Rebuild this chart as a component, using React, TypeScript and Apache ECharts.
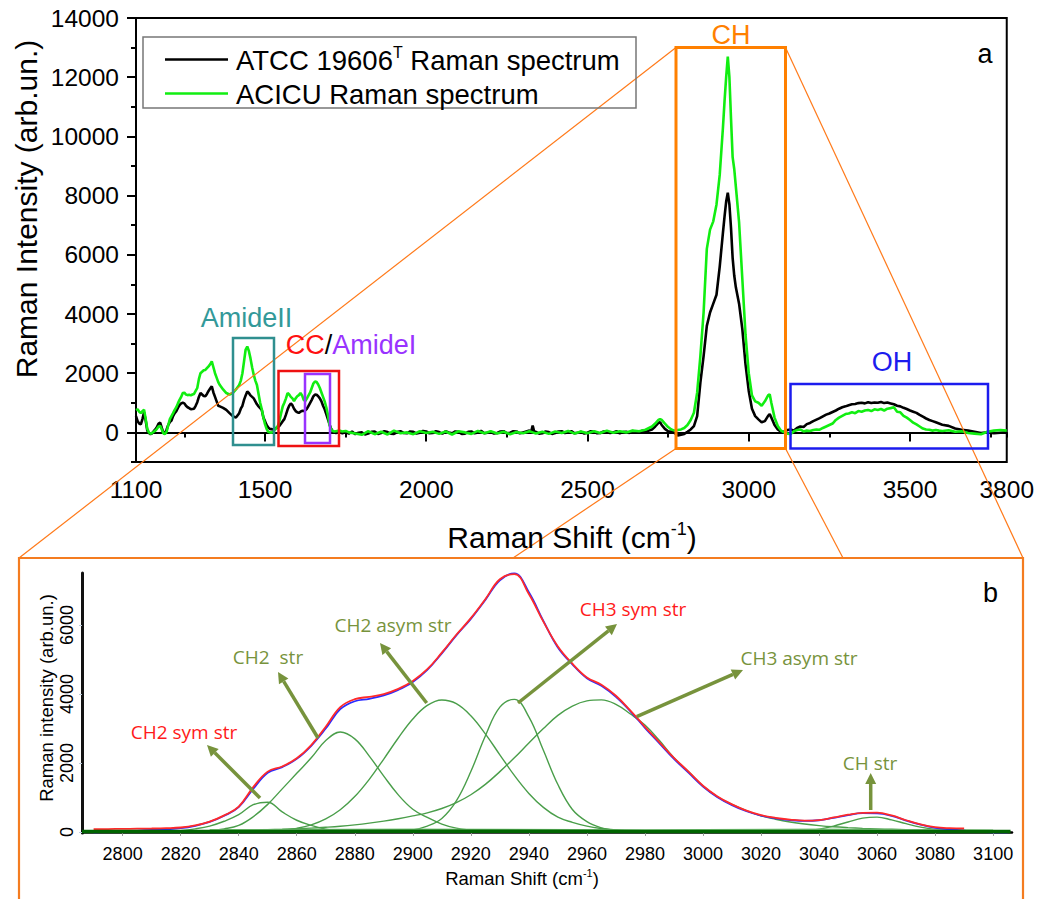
import React, { useEffect, useRef } from "react";
import * as echarts from "echarts";

// ---------- Panel a: full Raman spectra (shift cm-1, intensity arb.un.) ----------
const atcc: [number, number][] = [
  [1100,550],[1105,380],[1110,300],[1115,270],[1120,450],[1125,680],[1130,400],[1135,60],[1140,-20],[1145,-60],
  [1150,-30],[1155,40],[1160,100],[1165,180],[1170,300],[1175,330],[1180,150],[1185,-20],[1190,-30],[1195,100],
  [1200,250],[1205,350],[1210,400],[1215,550],[1220,650],[1225,720],[1230,830],[1235,920],[1240,980],[1245,1000],
  [1250,980],[1255,900],[1260,850],[1265,820],[1270,780],[1275,790],[1280,800],[1285,900],[1290,1020],[1295,1200],
  [1300,1330],[1305,1280],[1310,1230],[1315,1220],[1320,1300],[1325,1400],[1330,1480],[1335,1560],[1340,1350],[1345,1200],
  [1350,1050],[1355,900],[1360,880],[1370,830],[1380,760],[1390,650],[1400,550],[1410,500],[1420,650],[1425,800],
  [1430,900],[1435,1100],[1440,1250],[1445,1380],[1450,1330],[1455,1250],[1460,1200],[1465,1150],[1470,1050],[1475,950],
  [1480,880],[1485,820],[1490,760],[1495,500],[1500,380],[1505,250],[1510,170],[1515,120],[1520,110],[1525,100],
  [1530,130],[1535,150],[1540,170],[1545,220],[1550,300],[1555,380],[1560,450],[1565,600],[1570,770],[1575,900],
  [1580,980],[1585,920],[1590,800],[1595,720],[1600,680],[1605,660],[1610,700],[1615,730],[1620,720],[1625,750],
  [1630,800],[1635,900],[1640,1000],[1645,1100],[1650,1220],[1655,1280],[1660,1270],[1665,1220],[1670,1150],[1675,1050],
  [1680,900],[1685,780],[1690,620],[1695,450],[1700,280],[1705,120],[1710,40],[1715,0],[1720,-20],[1730,20],
  [1740,-30],[1750,10],[1760,-40],[1770,30],[1780,-60],[1790,-10],[1800,0],[1810,-70],[1820,-40],[1830,20],
  [1840,30],[1850,-50],[1860,-20],[1870,40],[1880,10],[1890,-40],[1900,-50],[1910,10],[1920,40],[1930,-20],
  [1940,-30],[1950,30],[1960,20],[1970,-40],[1980,-10],[1990,50],[2000,30],[2010,-30],[2020,-20],[2030,40],
  [2040,10],[2050,-40],[2060,40],[2070,0],[2080,-30],[2090,30],[2100,20],[2110,-50],[2120,-40],[2130,20],
  [2140,30],[2150,-30],[2160,0],[2170,50],[2180,-30],[2190,-10],[2200,20],[2210,-40],[2220,-20],[2230,30],
  [2240,40],[2250,-30],[2260,-10],[2270,40],[2280,30],[2290,-30],[2300,0],[2310,30],[2320,60],[2325,0],
  [2330,230],[2335,10],[2340,20],[2350,-40],[2360,-30],[2370,30],[2380,10],[2390,-50],[2400,-20],[2410,30],
  [2420,40],[2430,-20],[2440,0],[2450,40],[2460,-30],[2470,-10],[2480,20],[2490,-40],[2500,-10],[2510,40],
  [2520,30],[2530,-30],[2540,-20],[2550,30],[2560,40],[2570,-20],[2580,0],[2590,40],[2600,-30],[2610,10],
  [2620,20],[2630,-20],[2640,50],[2650,10],[2660,0],[2670,60],[2680,30],[2690,60],
  [2700,100],[2710,200],[2720,320],[2725,350],[2730,250],[2740,120],[2750,40],[2760,30],[2770,-20],[2780,-100],
  [2790,-80],[2800,-50],[2810,20],[2820,100],[2830,215],[2840,550],[2850,1680],[2860,2580],[2870,3600],[2880,4050],
  [2890,4350],[2900,4650],[2910,5600],[2920,6750],[2925,7300],[2930,7800],[2935,8100],[2940,7700],[2945,6900],[2950,5900],
  [2955,5300],[2960,4900],[2970,4350],[2980,3500],[2990,2300],[3000,1400],[3010,800],[3020,550],[3030,440],[3040,340],
  [3050,380],[3060,560],[3065,620],[3070,500],[3080,250],[3090,100],[3100,20],[3110,30],[3120,80],[3130,100],
  [3140,60],[3150,150],[3160,200],[3170,180],[3180,280],[3190,320],[3200,380],[3210,430],[3220,480],[3230,540],
  [3240,600],[3250,640],[3260,690],[3270,740],[3280,800],[3290,850],[3300,880],[3310,920],[3320,950],[3330,960],
  [3340,990],[3350,1000],[3360,980],[3370,1020],[3380,990],[3390,1010],[3400,1000],[3410,1030],[3420,990],[3430,1010],
  [3440,980],[3450,950],[3460,900],[3470,880],[3480,830],[3490,790],[3500,740],[3510,700],[3520,660],[3530,590],
  [3540,530],[3550,470],[3560,420],[3570,380],[3580,340],[3590,300],[3600,260],[3620,220],[3640,130],[3660,90],
  [3680,60],[3700,20],[3720,-20],[3740,0],[3760,-30],[3780,-10],[3800,0]
];

const acicu: [number, number][] = [
  [1100,750],[1105,780],[1110,700],[1115,650],[1120,720],[1125,770],[1130,450],[1135,120],[1140,0],[1145,-50],
  [1150,-20],[1155,20],[1160,60],[1165,120],[1170,200],[1175,220],[1180,100],[1185,-40],[1190,-50],[1195,20],
  [1200,250],[1205,450],[1210,550],[1215,650],[1220,760],[1225,850],[1230,980],[1235,1100],[1240,1200],[1245,1330],
  [1250,1340],[1255,1280],[1260,1260],[1265,1270],[1270,1250],[1275,1280],[1280,1300],[1285,1400],[1290,1500],[1295,1800],
  [1300,2000],[1305,2050],[1310,2100],[1315,2110],[1320,2170],[1325,2230],[1330,2300],[1335,2400],[1340,2200],[1345,2000],
  [1350,1850],[1355,1700],[1360,1600],[1370,1450],[1380,1330],[1390,1280],[1400,1330],[1410,1450],[1420,1600],[1425,1750],
  [1430,2000],[1435,2400],[1440,2800],[1445,2900],[1450,2750],[1455,2500],[1460,2200],[1465,1950],[1470,1750],[1475,1600],
  [1480,1300],[1485,1000],[1490,780],[1495,500],[1500,280],[1505,120],[1510,20],[1515,0],[1520,-10],[1525,20],
  [1530,80],[1535,150],[1540,220],[1545,400],[1550,650],[1555,880],[1560,1000],[1565,1150],[1570,1330],[1575,1280],
  [1580,1200],[1585,1150],[1590,1060],[1595,1150],[1600,1220],[1605,1260],[1610,1330],[1615,1250],[1620,1100],[1625,1060],
  [1630,1150],[1635,1250],[1640,1350],[1645,1500],[1650,1650],[1655,1720],[1660,1700],[1665,1620],[1670,1500],[1675,1350],
  [1680,1200],[1685,1050],[1690,850],[1695,600],[1700,250],[1705,100],[1710,50],[1715,30],[1720,40],[1730,60],
  [1740,30],[1750,50],[1760,0],[1780,-40],[1800,-80],[1820,40],[1840,-60],[1860,20],[1880,-70],[1900,60],
  [1920,-30],[1940,0],[1960,-60],[1980,40],[2000,-20],[2020,20],[2040,-50],[2060,30],[2080,-70],[2100,40],
  [2120,0],[2140,-50],[2160,50],[2180,-30],[2200,40],[2220,-40],[2240,20],[2260,-60],[2280,10],[2300,-30],
  [2320,40],[2330,0],[2340,-40],[2360,20],[2380,-50],[2400,30],[2420,-20],[2440,50],[2460,-40],[2480,30],
  [2500,-30],[2520,40],[2540,-20],[2560,60],[2580,-10],[2600,40],[2620,0],[2640,60],[2660,40],[2680,90],
  [2700,200],[2710,300],[2720,420],[2725,450],[2730,420],[2740,300],[2750,180],[2760,100],[2770,60],[2780,80],
  [2790,100],[2800,150],[2810,250],[2820,420],[2830,665],[2840,1340],[2850,2580],[2860,4050],[2870,6200],[2880,6850],
  [2890,7130],[2900,7700],[2910,8700],[2920,10300],[2925,11200],[2930,12000],[2935,12700],[2940,12000],[2945,10600],[2950,9300],
  [2955,8900],[2960,8300],[2970,7100],[2980,5200],[2990,3300],[3000,2000],[3010,1250],[3020,1050],[3030,1000],[3040,900],
  [3050,1050],[3060,1250],[3065,1290],[3070,1000],[3080,500],[3090,215],[3100,60],[3110,0],[3120,-40],[3130,-50],
  [3140,40],[3150,80],[3160,100],[3170,30],[3180,60],[3190,50],[3200,80],[3210,100],[3220,90],[3230,150],
  [3240,200],[3250,250],[3260,300],[3270,420],[3280,500],[3290,560],[3300,620],[3310,640],[3320,680],[3330,650],
  [3340,720],[3350,700],[3360,740],[3370,760],[3380,720],[3390,780],[3400,760],[3410,790],[3420,740],[3430,800],
  [3440,820],[3450,850],[3460,700],[3470,680],[3480,560],[3490,500],[3500,420],[3510,330],[3520,270],[3530,200],
  [3540,130],[3550,100],[3560,90],[3570,60],[3580,80],[3590,60],[3600,50],[3620,70],[3640,20],[3660,40],
  [3680,-20],[3700,-40],[3720,-60],[3740,20],[3760,60],[3780,80],[3800,60]
];

const xLabelsA = [1100, 1500, 2000, 2500, 3000, 3500, 3800];
const xMajorA = [1500, 2000, 2500, 3000, 3500];
const xMinorA = [1100, 1250, 1750, 2250, 2750, 3250, 3750, 3800];
const yLabelsA = [0, 2000, 4000, 6000, 8000, 10000, 12000, 14000];
const yMinorA = [-1000, 1000, 3000, 5000, 7000, 9000, 11000, 13000];

// ---------- Panel b: CH band fit ----------
const fitX = [
  2790,2795,2800,2805,2810,2815,2820,2825,
  2830,2835,2840,2845,2850,2855,2860,2865,
  2870,2875,2880,2885,2890,2895,2900,2905,
  2910,2915,2920,2925,2930,2935,2940,2945,
  2950,2955,2960,2965,2970,2975,2980,2985,
  2990,2995,3000,3005,3010,3015,3020,3025,
  3030,3035,3040,3045,3050,3055,3060,3065,
  3070,3075,3080,3085,3090,3095,3100,3105
];
const measured = [
  -10,0,20,40,60,80,110,180,
  290,470,720,1250,1720,1880,2120,2500,
  3000,3560,3790,3860,3960,4120,4350,4700,
  5180,5700,6180,6730,7300,7500,6950,6120,
  5350,4860,4460,4240,3920,3500,3020,2570,
  2120,1720,1320,1010,780,600,475,395,
  345,320,340,410,490,545,540,470,
  330,210,120,80,40,0,-10,-10
];
const fitSum = [
  80,85,90,95,100,110,130,190,
  300,480,735,1300,1750,1900,2135,2520,
  3050,3620,3850,3920,4000,4150,4380,4720,
  5200,5720,6200,6750,7330,7480,6900,6100,
  5380,4880,4480,4270,3950,3520,3050,2600,
  2150,1750,1340,1030,800,620,490,410,
  360,330,345,420,500,555,560,480,
  340,220,140,110,100,null,null,null
];
const ch2Sym = [
  0,0,0,0,5,15,40,90,
  170,310,500,790,860,580,340,190,
  80,25,8,0,0,0,0,0,
  0,0,0,0,0,0,0,0,
  0,0,0,0,0,0,0,0,
  0,0,0,0,0,0,0,0,
  0,0,0,0,0,0,0,0,
  0,0,0,0,0,0,0,0
];
const ch2Str = [
  0,0,0,0,0,2,6,15,
  40,90,190,440,800,1250,1700,2150,
  2650,2900,2700,2200,1620,1076,660,420,
  230,110,50,20,6,0,0,0,
  0,0,0,0,0,0,0,0,
  0,0,0,0,0,0,0,0,
  0,0,0,0,0,0,0,0,
  0,0,0,0,0,0,0,0
];
const ch2Asym = [
  0,0,0,0,0,0,0,0,
  0,0,3,9,22,49,104,204,
  377,644,1027,1527,2115,2726,3277,3670,
  3828,3722,3370,2845,2237,1639,1118,712,
  430,280,170,100,55,30,15,5,
  0,0,0,0,0,0,0,0,
  0,0,0,0,0,0,0,0,
  0,0,0,0,0,0,0,0
];
const ch3Sym = [
  0,0,0,0,0,0,0,0,
  0,0,0,0,0,0,0,0,
  0,0,0,0,8,20,60,170,
  390,900,1752,2784,3619,3845,3339,2370,
  1375,652,300,120,45,15,5,0,
  0,0,0,0,0,0,0,0,
  0,0,0,0,0,0,0,0,
  0,0,0,0,0,0,0,0
];
const ch3Asym = [
  12,14,16,18,20,23,26,30,
  35,40,47,55,65,77,92,110,
  135,165,205,255,315,385,465,555,
  680,850,1080,1380,1750,2150,2580,3000,
  3380,3650,3800,3830,3700,3420,3100,2650,
  2150,1750,1330,1020,800,620,470,370,
  290,230,185,150,125,105,90,78,
  68,60,52,46,40,35,31,28
];
const chStr = [
  0,0,0,0,0,0,0,0,
  0,0,0,0,0,0,0,0,
  0,0,0,0,0,0,0,0,
  0,0,0,0,0,0,0,0,
  0,0,0,0,0,0,0,0,
  0,0,0,0,0,0,0,0,
  10,30,80,170,290,400,430,350,
  240,140,70,30,10,3,0,0
];
const baselineX = [2786, 2830, 2900, 2980, 3040, 3100, 3106];
const baselineDark = [12, 14, 18, 16, 14, 12, 12];
const baselineLight = [null, 55, 70, 50, 75, 45, null];

const xTicksB = [2800,2820,2840,2860,2880,2900,2920,2940,2960,2980,3000,3020,3040,3060,3080,3100];
const yTicksB = [0, 2000, 4000, 6000];

const FONT = "'Liberation Sans', Arial, sans-serif";
const GOTHIC = "'Open Sans', 'DejaVu Sans', sans-serif";
const OLIVE = "#77933c";
const ORANGE = "#ff8000";
const GREEN = "#11ee11";
const COMP = "#4a9e4a";

const zip = (xs: number[], ys: (number | null)[]) => xs.map((x, i) => [x, ys[i]]);

function arrowEls(t: [number, number], h: [number, number]) {
  const dx = h[0] - t[0], dy = h[1] - t[1];
  const L = Math.hypot(dx, dy);
  const ux = dx / L, uy = dy / L, nx = -uy, ny = ux;
  const hl = 11, hw = 5.5;
  const bx = h[0] - ux * hl, by = h[1] - uy * hl;
  return [
    { type: "line", z: 20, shape: { x1: t[0], y1: t[1], x2: bx, y2: by }, style: { stroke: OLIVE, lineWidth: 3.5 } },
    { type: "polygon", z: 20, shape: { points: [[h[0], h[1]], [bx + nx * hw, by + ny * hw], [bx - nx * hw, by - ny * hw]] }, style: { fill: OLIVE } },
  ];
}

function txt(x: number, y: number, text: string, size: number, fill: string, family = FONT, extra: any = {}) {
  return { type: "text", z: 30, x, y, ...extra, style: { text, fontSize: size, fontFamily: family, fill, align: "center", verticalAlign: "middle" } };
}

function box(x1: number, y1: number, x2: number, y2: number, stroke: string, lw: number) {
  return { type: "rect", z: 15, shape: { x: x1, y: y1, width: x2 - x1, height: y2 - y1 }, style: { fill: "none", stroke, lineWidth: lw } };
}

function oline(x1: number, y1: number, x2: number, y2: number, lw = 1.2) {
  return { type: "line", z: 14, shape: { x1, y1, x2, y2 }, style: { stroke: "#ff7a1a", lineWidth: lw } };
}

export default function App() {
  const ref = useRef<HTMLDivElement>(null);
  useEffect(() => {
    const chart = echarts.init(ref.current!, null, { renderer: "svg" });
    const lbl = { color: "#000", fontFamily: FONT };
    const option: any = {
      animation: false,
      backgroundColor: "#fff",
      grid: [
        { left: 136, top: 18, width: 873, height: 444, show: true, borderColor: "#000", borderWidth: 2, backgroundColor: "transparent" },
        { left: 82, top: 573, width: 930, height: 260 },
      ],
      xAxis: [
        {
          type: "value", gridIndex: 0, min: 1100, max: 3800, position: "bottom",
          axisLine: { lineStyle: { color: "#000", width: 2 } },
          axisTick: { show: true, customValues: xMajorA, length: 9, lineStyle: { color: "#000", width: 2 } },
          axisLabel: { customValues: xLabelsA, fontSize: 24.5, margin: 15, formatter: (v: number) => String(v), ...lbl },
          splitLine: { show: false },
        },
        {
          type: "value", gridIndex: 0, min: 1100, max: 3800, position: "bottom",
          axisLine: { show: false },
          axisTick: { show: true, customValues: xMinorA, length: 5, lineStyle: { color: "#000", width: 2 } },
          axisLabel: { show: false },
          splitLine: { show: false },
        },
        {
          type: "value", gridIndex: 1, min: 2786, max: 3106.5, position: "bottom",
          axisLine: { lineStyle: { color: "#000", width: 2.5 } },
          axisTick: { show: true, customValues: xTicksB, length: 4, lineStyle: { color: "#999", width: 1 } },
          axisLabel: { customValues: xTicksB, fontSize: 18, margin: 12, formatter: (v: number) => String(v), ...lbl },
          splitLine: { show: false },
        },
      ],
      yAxis: [
        {
          type: "value", gridIndex: 0, min: -1000, max: 14000, position: "left",
          axisLine: { show: true, lineStyle: { color: "#000", width: 2 } },
          axisTick: { show: true, customValues: yLabelsA, length: 9, lineStyle: { color: "#000", width: 2 } },
          axisLabel: { customValues: yLabelsA, fontSize: 24.5, margin: 17, formatter: (v: number) => String(v), ...lbl },
          splitLine: { show: false },
        },
        {
          type: "value", gridIndex: 0, min: -1000, max: 14000, position: "left",
          axisLine: { show: false },
          axisTick: { show: true, customValues: yMinorA, length: 5, lineStyle: { color: "#000", width: 2 } },
          axisLabel: { show: false },
          splitLine: { show: false },
        },
        {
          type: "value", gridIndex: 1, min: -30, max: 7510, position: "left",
          axisLine: { show: true, lineStyle: { color: "#111", width: 3 } },
          axisTick: { show: true, customValues: yTicksB, length: 3, lineStyle: { color: "#bcd", width: 1 } },
          axisLabel: { customValues: yTicksB, fontSize: 18, rotate: 90, margin: 6, formatter: (v: number) => String(v), ...lbl },
          splitLine: { show: false },
        },
      ],
      series: [
        { name: "ATCC 19606T Raman spectrum", type: "line", xAxisIndex: 0, yAxisIndex: 0, data: atcc, symbol: "none", lineStyle: { color: "#000", width: 2.6 }, z: 3 },
        { name: "ACICU Raman spectrum", type: "line", xAxisIndex: 0, yAxisIndex: 0, data: acicu, symbol: "none", lineStyle: { color: GREEN, width: 2.6 }, z: 4 },
        { name: "CH2 sym str", type: "line", xAxisIndex: 2, yAxisIndex: 2, data: zip(fitX, ch2Sym), symbol: "none", smooth: 0.4, lineStyle: { color: COMP, width: 1.4 } },
        { name: "CH2 str", type: "line", xAxisIndex: 2, yAxisIndex: 2, data: zip(fitX, ch2Str), symbol: "none", smooth: 0.4, lineStyle: { color: COMP, width: 1.4 } },
        { name: "CH2 asym str", type: "line", xAxisIndex: 2, yAxisIndex: 2, data: zip(fitX, ch2Asym), symbol: "none", smooth: 0.4, lineStyle: { color: COMP, width: 1.4 } },
        { name: "CH3 sym str", type: "line", xAxisIndex: 2, yAxisIndex: 2, data: zip(fitX, ch3Sym), symbol: "none", smooth: 0.4, lineStyle: { color: COMP, width: 1.4 } },
        { name: "CH3 asym str", type: "line", xAxisIndex: 2, yAxisIndex: 2, data: zip(fitX, ch3Asym), symbol: "none", smooth: 0.4, lineStyle: { color: COMP, width: 1.4 } },
        { name: "CH str", type: "line", xAxisIndex: 2, yAxisIndex: 2, data: zip(fitX, chStr), symbol: "none", smooth: 0.4, lineStyle: { color: COMP, width: 1.4 } },
        { name: "baseline light", type: "line", xAxisIndex: 2, yAxisIndex: 2, data: zip(baselineX, baselineLight), symbol: "none", lineStyle: { color: "#7cc47c", width: 2 } },
        { name: "measured", type: "line", xAxisIndex: 2, yAxisIndex: 2, data: zip(fitX, measured), symbol: "none", smooth: 0.4, lineStyle: { color: "#2b2bff", width: 1.8 }, z: 5 },
        { name: "fit", type: "line", xAxisIndex: 2, yAxisIndex: 2, data: zip(fitX, fitSum), symbol: "none", smooth: 0.4, lineStyle: { color: "#ff2a2a", width: 1.8 }, z: 6 },
        { name: "baseline", type: "line", xAxisIndex: 2, yAxisIndex: 2, data: zip(baselineX, baselineDark), symbol: "none", lineStyle: { color: "#006400", width: 3.5 }, z: 7 },
      ],
      graphic: [
        // legend
        box(143, 37, 636, 108, "#777", 1.5),
        { type: "line", z: 16, shape: { x1: 165, y1: 59.5, x2: 228, y2: 59.5 }, style: { stroke: "#000", lineWidth: 2.5 } },
        { type: "line", z: 16, shape: { x1: 165, y1: 93.5, x2: 228, y2: 93.5 }, style: { stroke: GREEN, lineWidth: 2.5 } },
        {
          type: "text", z: 30, x: 236, y: 60,
          style: {
            text: "{a|ATCC 19606}{s|T}{a| Raman spectrum}", align: "left", verticalAlign: "middle",
            rich: { a: { fontSize: 27.5, fontFamily: FONT, fill: "#000", lineHeight: 31 }, s: { fontSize: 16, fontFamily: FONT, fill: "#000", lineHeight: 18, verticalAlign: "top" } },
          },
        },
        { type: "text", z: 30, x: 236, y: 94, style: { text: "ACICU Raman spectrum", fontSize: 27.5, fontFamily: FONT, fill: "#000", align: "left", verticalAlign: "middle" } },
        txt(985, 54, "a", 27, "#000"),
        // axis titles panel a
        txt(26, 209, "Raman Intensity (arb.un.)", 30, "#000", FONT, { rotation: Math.PI / 2 }),
        {
          type: "text", z: 30, x: 572, y: 537,
          style: {
            text: "{a|Raman Shift (cm}{s|-1}{a|)}", align: "center", verticalAlign: "middle",
            rich: { a: { fontSize: 30, fontFamily: FONT, fill: "#000", lineHeight: 35 }, s: { fontSize: 18, fontFamily: FONT, fill: "#000", lineHeight: 20, verticalAlign: "top" } },
          },
        },
        // region boxes panel a
        box(676, 47.5, 785.5, 448.5, ORANGE, 3),
        txt(731, 35, "CH", 27, ORANGE),
        box(233, 338, 274, 445, "#2f8f8f", 2.5),
        txt(246.5, 318, "AmideII", 27, "#339999"),
        box(278.5, 371, 339, 446, "#ee1111", 2.5),
        box(305, 374, 330, 443, "#9933ff", 2.5),
        {
          type: "text", z: 30, x: 351, y: 345,
          style: {
            text: "{r|CC}{k|/}{p|AmideI}", align: "center", verticalAlign: "middle",
            rich: {
              r: { fontSize: 27, fontFamily: FONT, fill: "#ff1111" },
              k: { fontSize: 27, fontFamily: FONT, fill: "#000" },
              p: { fontSize: 27, fontFamily: FONT, fill: "#9933ff" },
            },
          },
        },
        box(790.5, 384, 988, 448.5, "#1c1cee", 2.5),
        txt(892, 362, "OH", 27, "#1c1cee"),
        // zoom connector lines
        oline(676, 47.5, 19, 558),
        oline(676, 448.5, 513, 558),
        oline(785.5, 448.5, 843, 558),
        oline(785.5, 47.5, 1023, 558),
        // panel b frame
        box(19, 558, 1023, 920, "#f47c20", 2.2),
        txt(990.5, 593, "b", 27, "#000"),
        // axis titles panel b
        txt(46, 698, "Raman intensity (arb.un.)", 18.5, "#000", FONT, { rotation: Math.PI / 2 }),
        {
          type: "text", z: 30, x: 522, y: 878,
          style: {
            text: "{a|Raman Shift (cm}{s|-1}{a|)}", align: "center", verticalAlign: "middle",
            rich: { a: { fontSize: 18.5, fontFamily: FONT, fill: "#000", lineHeight: 22 }, s: { fontSize: 11, fontFamily: FONT, fill: "#000", lineHeight: 13, verticalAlign: "top" } },
          },
        },
        // band annotations
        ...arrowEls([260, 798], [207, 745]),
        txt(184, 732, "CH2 sym str", 19, "#ff1a1a", GOTHIC),
        ...arrowEls([318, 738], [278, 672]),
        txt(268, 657, "CH2\u00a0\u00a0str", 19, OLIVE, GOTHIC),
        ...arrowEls([426.7, 703], [380, 643]),
        txt(393, 625, "CH2 asym str", 19, OLIVE, GOTHIC),
        ...arrowEls([518, 703], [617, 624]),
        txt(633, 609, "CH3 sym str", 19, "#ff1a1a", GOTHIC),
        ...arrowEls([636.7, 716.7], [743, 670]),
        txt(799, 658, "CH3 asym str", 19, OLIVE, GOTHIC),
        ...arrowEls([870.7, 810], [870.7, 773]),
        txt(870, 763, "CH str", 19, OLIVE, GOTHIC),
      ],
    };
    chart.setOption(option);
    return () => chart.dispose();
  }, []);
  return <div ref={ref} style={{ position: "fixed", left: 0, top: 0, width: 1037, height: 899, background: "#fff" }} />;
}
